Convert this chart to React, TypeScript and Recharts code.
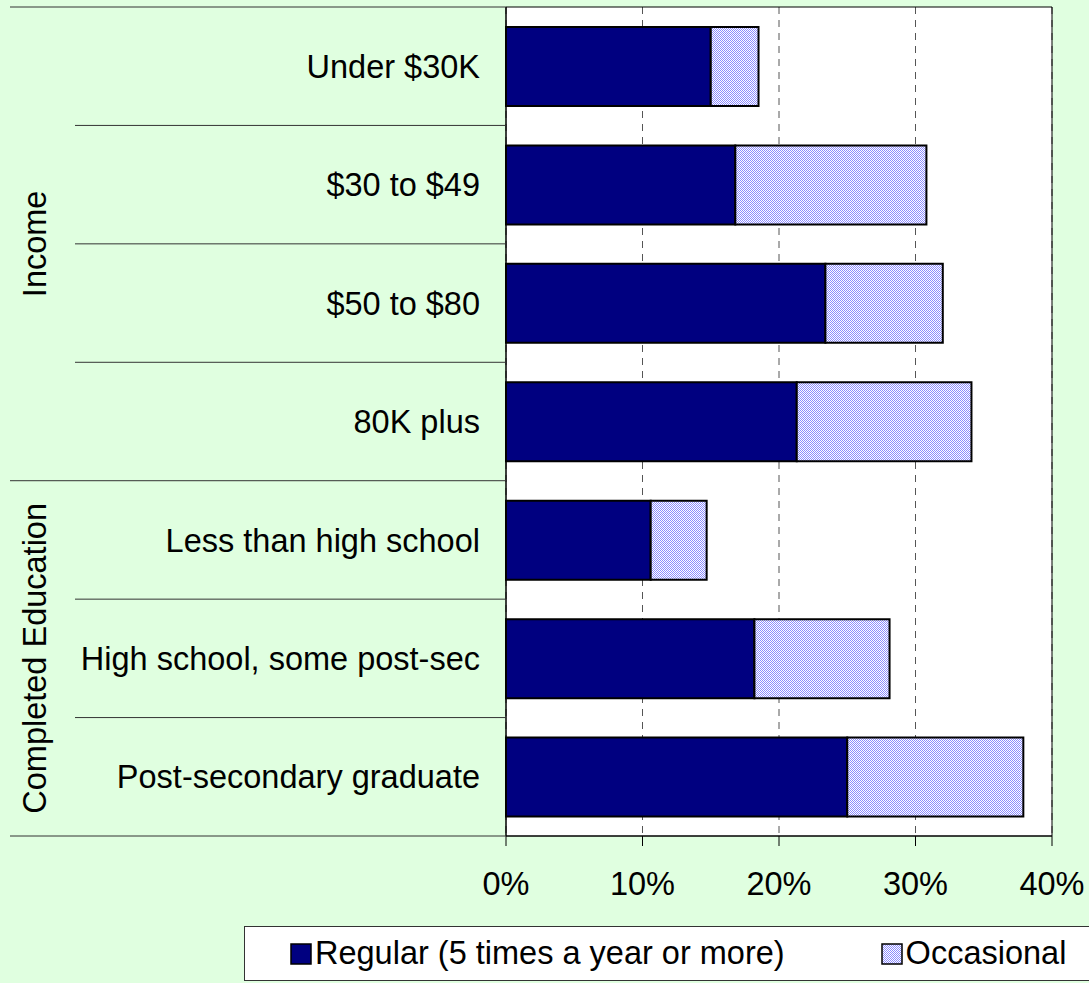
import React from "react";
import { BarChart, Bar, XAxis, YAxis, CartesianGrid, ReferenceArea } from "recharts";

// values (percent of respondents)
const CATEGORIES = [
  "Under $30K",
  "$30 to $49",
  "$50 to $80",
  "80K plus",
  "Less than high school",
  "High school, some post-sec",
  "Post-secondary graduate",
];
const REGULAR = [15.0, 16.8, 23.4, 21.3, 10.6, 18.2, 25.0];
const OCCASIONAL = [3.5, 14.0, 8.6, 12.8, 4.1, 9.9, 12.9];
const GROUPS = ["Income", "Completed Education"];
const GROUP_SIZES = [4, 3];
const X_TICKS = [0, 10, 20, 30, 40];
const SERIES_NAMES = ["Regular (5 times a year or more)", "Occasional"];

const W = 1089;
const H = 983;
const PLOT_LEFT = 506;
const PLOT_TOP = 7;
const PLOT_RIGHT = 1052;
const PLOT_BOTTOM = 836;
const X_AXIS_H = 40;
const BAND = (PLOT_BOTTOM - PLOT_TOP) / CATEGORIES.length;
const FONT = "'Liberation Sans', Arial, sans-serif";
const FONT_SIZE = 32.5;
const NAVY = "#000080";

const data = CATEGORIES.map((name, i) => ({
  name,
  regular: REGULAR[i],
  occasional: OCCASIONAL[i],
}));

const groupStarts: number[] = [];
GROUP_SIZES.reduce((acc, n) => {
  groupStarts.push(acc);
  return acc + n;
}, 0);
const groupEnds = groupStarts.map((s, g) => s + GROUP_SIZES[g] - 1);

const CategoryTick = (props: any) => {
  const { y, payload } = props;
  const index: number = props.index ?? payload.index;
  const top = y - BAND / 2;
  const bottom = y + BAND / 2;
  const isGroupEnd = groupEnds.includes(index);
  const g = groupStarts.indexOf(index);
  const groupMid = g >= 0 ? top + (GROUP_SIZES[g] * BAND) / 2 : 0;
  return (
    <g>
      {index === 0 && (
        <line x1={10} x2={PLOT_LEFT} y1={top} y2={top} stroke="#333" strokeWidth={1} />
      )}
      <line
        x1={isGroupEnd ? 10 : 75}
        x2={PLOT_LEFT}
        y1={bottom}
        y2={bottom}
        stroke="#333"
        strokeWidth={1}
      />
      <text
        x={480}
        y={y}
        dy="0.36em"
        textAnchor="end"
        fontSize={FONT_SIZE}
        fontFamily={FONT}
        fill="#000"
      >
        {payload.value}
      </text>
      {g >= 0 && (
        <text
          x={34}
          y={groupMid}
          dy="0.36em"
          textAnchor="middle"
          fontSize={FONT_SIZE}
          fontFamily={FONT}
          fill="#000"
          transform={`rotate(-90, 34, ${groupMid})`}
        >
          {GROUPS[g]}
        </text>
      )}
    </g>
  );
};

const PatternSwatch = ({ id }: { id: string }) => (
  <svg width={22} height={22} style={{ display: "block" }}>
    <defs>
      <pattern id={id} width="2" height="2" patternUnits="userSpaceOnUse">
        <rect width="2" height="2" fill="#fff" />
        <rect width="1" height="1" fill="#8c8cff" />
        <rect x="1" y="1" width="1" height="1" fill="#8c8cff" />
      </pattern>
    </defs>
    <rect x={1} y={1} width={20} height={20} fill={`url(#${id})`} stroke="#000" strokeWidth={1.5} />
  </svg>
);

const NavySwatch = () => (
  <svg width={22} height={22} style={{ display: "block" }}>
    <rect x={1} y={1} width={20} height={20} fill={NAVY} stroke="#000" strokeWidth={1.5} />
  </svg>
);

export default function App() {
  return (
    <div
      style={{
        position: "absolute",
        left: 0,
        top: 0,
        width: W,
        height: H,
        background: "#e0ffe0",
        overflow: "hidden",
        fontFamily: FONT,
      }}
    >
      <BarChart
        width={W}
        height={H}
        data={data}
        layout="vertical"
        margin={{
          top: PLOT_TOP,
          right: W - PLOT_RIGHT,
          bottom: H - PLOT_BOTTOM - X_AXIS_H,
          left: 0,
        }}
      >
        <defs>
          <pattern id="occPattern" width="2" height="2" patternUnits="userSpaceOnUse">
            <rect width="2" height="2" fill="#fff" />
            <rect width="1" height="1" fill="#8c8cff" />
            <rect x="1" y="1" width="1" height="1" fill="#8c8cff" />
          </pattern>
        </defs>
        <CartesianGrid
          horizontal={false}
          vertical
          fill="#fff"
          stroke="#555"
          strokeDasharray="7 6"
        />
        <XAxis
          type="number"
          domain={[0, 40]}
          ticks={X_TICKS}
          tickFormatter={(v: number) => `${v}%`}
          height={X_AXIS_H}
          tickSize={10}
          tickMargin={26}
          axisLine={{ stroke: "#000" }}
          tickLine={{ stroke: "#000" }}
          tick={{ fill: "#000", fontSize: FONT_SIZE, fontFamily: FONT }}
          interval={0}
        />
        <YAxis
          type="category"
          dataKey="name"
          width={PLOT_LEFT}
          axisLine={{ stroke: "#000" }}
          tickLine={false}
          tick={<CategoryTick />}
          interval={0}
        />
        <ReferenceArea x1={0} x2={40} fill="none" stroke="#000" strokeWidth={1} />
        <Bar
          dataKey="regular"
          name={SERIES_NAMES[0]}
          stackId="a"
          fill={NAVY}
          stroke="#000"
          strokeWidth={2}
          barSize={79}
          isAnimationActive={false}
        />
        <Bar
          dataKey="occasional"
          name={SERIES_NAMES[1]}
          stackId="a"
          fill="url(#occPattern)"
          stroke="#000"
          strokeWidth={2}
          barSize={79}
          isAnimationActive={false}
        />
      </BarChart>
      <div
        style={{
          position: "absolute",
          left: 244,
          top: 926,
          width: 860,
          height: 55,
          boxSizing: "border-box",
          border: "1px solid #333",
          background: "#fff",
          display: "flex",
          alignItems: "center",
          paddingLeft: 45,
          fontSize: FONT_SIZE,
          color: "#000",
          whiteSpace: "nowrap",
        }}
      >
        <div style={{ display: "flex", alignItems: "center" }}>
          <NavySwatch />
          <span style={{ marginLeft: 3 }}>{SERIES_NAMES[0]}</span>
        </div>
        <div style={{ display: "flex", alignItems: "center", marginLeft: 96 }}>
          <PatternSwatch id="occLegend" />
          <span style={{ marginLeft: 3 }}>{SERIES_NAMES[1]}</span>
        </div>
      </div>
    </div>
  );
}
